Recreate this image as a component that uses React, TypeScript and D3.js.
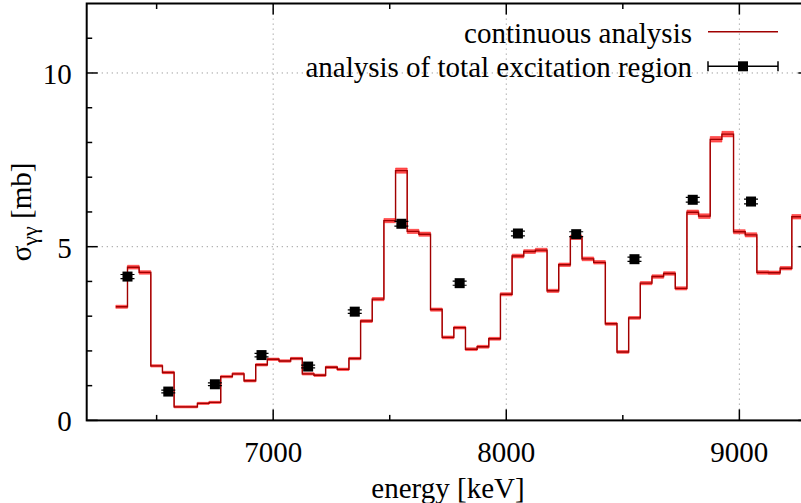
import React from 'react';
import * as d3 from 'd3';

// bin centres [keV] of the continuous analysis (bin width 50 keV)
const binCenters = [
  6350, 6400, 6450, 6500, 6550, 6600, 6650, 6700, 6750, 6800,
  6850, 6900, 6950, 7000, 7050, 7100, 7150, 7200, 7250, 7300,
  7350, 7400, 7450, 7500, 7550, 7600, 7650, 7700, 7750, 7800,
  7850, 7900, 7950, 8000, 8050, 8100, 8150, 8200, 8250, 8300,
  8350, 8400, 8450, 8500, 8550, 8600, 8650, 8700, 8750, 8800,
  8850, 8900, 8950, 9000, 9050, 9100, 9150, 9200, 9250,
];
// sigma_gg [mb]
const sigma = [
  3.27, 4.41, 4.26, 1.57, 1.38, 0.39, 0.39, 0.49, 0.52, 1.26,
  1.34, 1.14, 1.60, 1.76, 1.71, 1.78, 1.34, 1.30, 1.53, 1.47,
  1.78, 2.86, 3.49, 5.75, 7.19, 5.44, 5.36, 3.19, 2.39, 2.67,
  2.05, 2.12, 2.35, 3.63, 4.73, 4.86, 4.90, 3.73, 4.48, 5.27,
  4.65, 4.55, 2.78, 1.97, 2.95, 3.95, 4.14, 4.23, 3.80, 5.99,
  5.88, 8.09, 8.24, 5.43, 5.34, 4.26, 4.25, 4.38, 5.86,
];
// uncertainty band half-width [mb]
const sigmaErr = [
  0.045, 0.055, 0.05, 0.035, 0.035, 0.03, 0.03, 0.03, 0.03, 0.035,
  0.035, 0.035, 0.035, 0.035, 0.035, 0.035, 0.035, 0.035, 0.035, 0.035,
  0.035, 0.04, 0.045, 0.06, 0.075, 0.06, 0.06, 0.045, 0.04, 0.04,
  0.04, 0.04, 0.04, 0.045, 0.055, 0.055, 0.055, 0.045, 0.05, 0.06,
  0.055, 0.05, 0.04, 0.04, 0.04, 0.045, 0.05, 0.05, 0.045, 0.065,
  0.065, 0.08, 0.08, 0.06, 0.06, 0.05, 0.05, 0.05, 0.065,
];

// analysis of total excitation region
const pointEnergy = [6375, 6550, 6750, 6950, 7150, 7350, 7550, 7800, 8050, 8300, 8550, 8800, 9050];
const pointSigma = [4.14, 0.83, 1.04, 1.88, 1.55, 3.13, 5.66, 3.95, 5.38, 5.36, 4.64, 6.35, 6.30];
const pointErr = [0.06, 0.04, 0.04, 0.05, 0.04, 0.05, 0.07, 0.06, 0.07, 0.07, 0.06, 0.07, 0.07];

const xTicksMajor = [7000, 8000, 9000];
const xTicksMinor = [6500, 7500, 8500];
const yTicksMajor = [0, 5, 10];
const yTicksMinor = [1, 2, 3, 4, 6, 7, 8, 9, 11];

const legendLabels = ['continuous analysis', 'analysis of total excitation region'];

const BIN = 50;
const FONT = '"Liberation Serif", "Times New Roman", Times, Tinos, "DejaVu Serif", serif';

type StepPt = { e: number; v: number; err: number };

export default function App() {
  const W = 801;
  const H = 503;
  const left = 86.7;
  const right = 809.3;
  const top = 3.5;
  const bottom = 420.4;

  const x = d3.scaleLinear().domain([6200, 9300]).range([left, right]);
  const y = d3.scaleLinear().domain([0, 12]).range([bottom, top]);

  const stepPts: StepPt[] = binCenters.map((c, i) => ({ e: c - BIN / 2, v: sigma[i], err: sigmaErr[i] }));
  const lastIdx = binCenters.length - 1;
  stepPts.push({ e: binCenters[lastIdx] + BIN / 2, v: sigma[lastIdx], err: sigmaErr[lastIdx] });

  const line = d3
    .line<StepPt>()
    .x((d) => x(d.e))
    .y((d) => y(d.v))
    .curve(d3.curveStepAfter);
  const area = d3
    .area<StepPt>()
    .x((d) => x(d.e))
    .y0((d) => y(d.v - d.err))
    .y1((d) => y(d.v + d.err))
    .curve(d3.curveStepAfter);

  const majorLen = 11;
  const minorLen = 5.5;
  const gridStyle = { stroke: '#a0a0a0', strokeWidth: 1, strokeDasharray: '1.3 3.7' };

  const lineColor = '#a00000';
  const bandColor = '#ff1a1a';

  const legX1 = 708;
  const legX2 = 778;
  const legTextX = 692;
  const legRowY = [31.7, 66.3];

  const txt = { fontFamily: FONT, fontSize: '29px' };

  return (
    <svg
      width={W}
      height={H}
      style={{ position: 'absolute', left: 0, top: 0, background: '#fff', fontFamily: FONT }}
    >
      <defs>
        <clipPath id="plotClip">
          <rect x={left} y={top} width={right - left} height={bottom - top} />
        </clipPath>
      </defs>
      <rect x={0} y={0} width={W} height={H} fill="#fff" />

      {/* grid */}
      {xTicksMajor.map((t) => (
        <line key={'gx' + t} x1={x(t)} x2={x(t)} y1={top} y2={bottom} style={gridStyle} />
      ))}
      {yTicksMajor
        .filter((t) => t > 0)
        .map((t) => (
          <line key={'gy' + t} x1={left} x2={right} y1={y(t)} y2={y(t)} style={gridStyle} />
        ))}

      {/* legend */}
      {legendLabels.map((l, i) => (
        <text key={l} x={legTextX} y={legRowY[i] + 11} style={txt} textAnchor="end" fill="#000">
          {l}
        </text>
      ))}
      <line x1={legX1} x2={legX2} y1={legRowY[0]} y2={legRowY[0]} stroke={lineColor} strokeWidth={1.5} />
      <g stroke="#000" strokeWidth={1.5}>
        <line x1={legX1} x2={legX2} y1={legRowY[1]} y2={legRowY[1]} />
        <line x1={legX1} x2={legX1} y1={legRowY[1] - 5} y2={legRowY[1] + 5} />
        <line x1={legX2} x2={legX2} y1={legRowY[1] - 5} y2={legRowY[1] + 5} />
      </g>
      <rect x={(legX1 + legX2) / 2 - 5} y={legRowY[1] - 5} width={10} height={10} fill="#000" />

      {/* data */}
      <g clipPath="url(#plotClip)">
        <path d={area(stepPts) || ''} fill={bandColor} fillOpacity={0.75} stroke={bandColor} strokeOpacity={0.5} strokeWidth={1} />
        <path d={line(stepPts) || ''} fill="none" stroke={lineColor} strokeWidth={1.4} />
        {pointEnergy.map((e, i) => {
          const cx = x(e);
          const cy = y(pointSigma[i]);
          const y1 = y(pointSigma[i] + pointErr[i]);
          const y2 = y(pointSigma[i] - pointErr[i]);
          return (
            <g key={'p' + e}>
              <g stroke="#000" strokeWidth={1.2}>
                <line x1={cx} x2={cx} y1={y1} y2={y2} />
                <line x1={cx - 7} x2={cx + 7} y1={y1} y2={y1} />
                <line x1={cx - 7} x2={cx + 7} y1={y2} y2={y2} />
              </g>
              <rect x={cx - 5} y={cy - 5} width={10} height={10} fill="#000" />
            </g>
          );
        })}
      </g>

      {/* ticks */}
      <g stroke="#000" strokeWidth={1.5}>
        {xTicksMajor.map((t) => (
          <g key={'tx' + t}>
            <line x1={x(t)} x2={x(t)} y1={bottom} y2={bottom - majorLen} />
            <line x1={x(t)} x2={x(t)} y1={top} y2={top + majorLen} />
          </g>
        ))}
        {xTicksMinor.map((t) => (
          <g key={'tmx' + t}>
            <line x1={x(t)} x2={x(t)} y1={bottom} y2={bottom - minorLen} />
            <line x1={x(t)} x2={x(t)} y1={top} y2={top + minorLen} />
          </g>
        ))}
        {yTicksMajor.map((t) => (
          <g key={'ty' + t}>
            <line x1={left} x2={left + majorLen} y1={y(t)} y2={y(t)} />
            <line x1={right} x2={right - majorLen} y1={y(t)} y2={y(t)} />
          </g>
        ))}
        {yTicksMinor.map((t) => (
          <g key={'tmy' + t}>
            <line x1={left} x2={left + minorLen} y1={y(t)} y2={y(t)} />
            <line x1={right} x2={right - minorLen} y1={y(t)} y2={y(t)} />
          </g>
        ))}
      </g>

      {/* border */}
      <rect x={left} y={top} width={right - left} height={bottom - top} fill="none" stroke="#000" strokeWidth={2} />

      {/* tick labels */}
      {xTicksMajor.map((t) => (
        <text key={'lx' + t} x={x(t)} y={461.5} style={txt} textAnchor="middle" fill="#000">
          {t}
        </text>
      ))}
      {yTicksMajor.map((t) => (
        <text key={'ly' + t} x={71.7} y={y(t) + 11} style={txt} textAnchor="end" fill="#000">
          {t}
        </text>
      ))}

      {/* axis titles */}
      <text x={(left + right) / 2} y={498} style={txt} textAnchor="middle" fill="#000">
        energy [keV]
      </text>
      <text transform={`translate(31,${(top + bottom) / 2}) rotate(-90)`} style={txt} textAnchor="middle" fill="#000">
        σ
        <tspan style={{ fontSize: '22px' }} dy={6}>
          γγ
        </tspan>
        <tspan dy={-6}> [mb]</tspan>
      </text>
    </svg>
  );
}
